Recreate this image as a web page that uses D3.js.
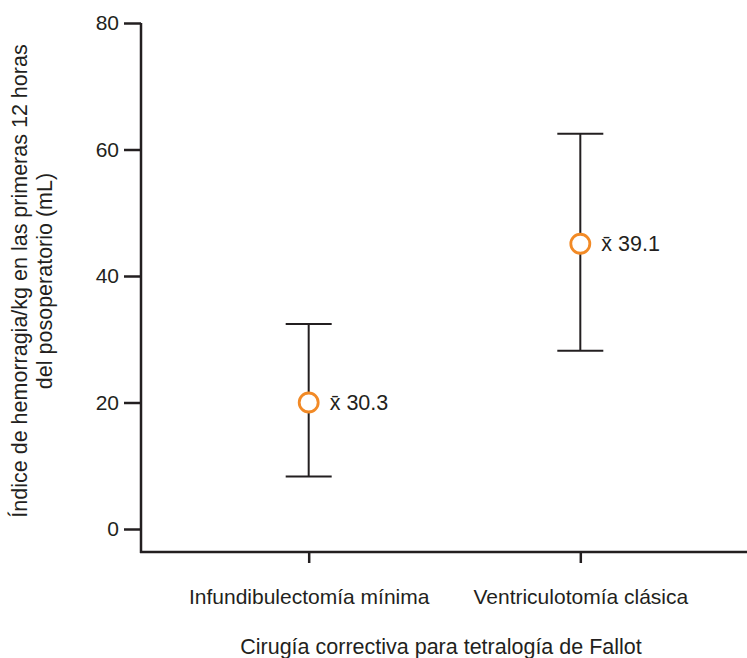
<!DOCTYPE html>
<meta charset="utf-8">
<style>
body { margin: 0; background: #fff; }
text { font-family: "Liberation Sans", Arial, sans-serif; fill: #231f20; }
.axis path, .axis line { stroke: #231f20; stroke-width: 2.5; }
.axis text { font-size: 21px; fill: #231f20; }
.bar { stroke: #231f20; stroke-width: 2; }
</style>
<body>
<svg width="747" height="658"></svg>
<script src="https://cdn.jsdelivr.net/npm/d3@7"></script>
<script>

var categories = ["Infundibulectomía mínima", "Ventriculotomía clásica"];
var points = [20, 45.1];
var upper = [32.4, 62.5];
var lower = [8.3, 28.2];
var meanLabels = ["30.3", "39.1"];
var yTicks = [0, 20, 40, 60, 80];

var svg = d3.select("svg");

var y = d3.scaleLinear().domain([0, 80]).range([529, 23]);
var x = d3.scalePoint().domain(categories).range([143, 746]).padding(0.61);
var axisY = 552;

// y axis
var gy = svg.append("g").attr("class", "axis")
    .attr("transform", "translate(141,0)")
    .call(d3.axisLeft(y).tickValues(yTicks).tickSize(17).tickPadding(5).tickSizeOuter(0));
gy.select(".domain").remove();
gy.append("line").attr("x1", 0).attr("x2", 0).attr("y1", y(80)).attr("y2", axisY + 1);

// x axis
var gx = svg.append("g").attr("class", "axis")
    .attr("transform", "translate(0," + axisY + ")")
    .call(d3.axisBottom(x).tickSize(11).tickPadding(26).tickSizeOuter(0));
gx.select(".domain").remove();
gx.append("line").attr("x1", 140).attr("x2", 747).attr("y1", 0).attr("y2", 0);
gx.selectAll(".tick text").style("font-size", "21px");

// error bars
var g = svg.append("g").selectAll("g").data(categories).enter().append("g");
g.append("line").attr("class", "bar")
    .attr("x1", function(d) { return x(d); }).attr("x2", function(d) { return x(d); })
    .attr("y1", function(d, i) { return y(upper[i]); })
    .attr("y2", function(d, i) { return y(lower[i]); });
[upper, lower].forEach(function(arr) {
  g.append("line").attr("class", "bar")
      .attr("x1", function(d) { return x(d) - 23; }).attr("x2", function(d) { return x(d) + 23; })
      .attr("y1", function(d, i) { return y(arr[i]); })
      .attr("y2", function(d, i) { return y(arr[i]); });
});
g.append("circle")
    .attr("cx", function(d) { return x(d); })
    .attr("cy", function(d, i) { return y(points[i]); })
    .attr("r", 9.5)
    .attr("fill", "#fff")
    .attr("stroke", "#f28a26")
    .attr("stroke-width", 2.8);
g.append("text")
    .attr("x", function(d) { return x(d) + 21; })
    .attr("y", function(d, i) { return y(points[i]); })
    .attr("dy", "0.36em")
    .style("font-size", "21.5px")
    .text(function(d, i) { return "x\u0304 " + meanLabels[i]; });

// axis titles
svg.append("text")
    .attr("x", 441).attr("y", 654)
    .attr("text-anchor", "middle")
    .style("font-size", "21.5px")
    .text("Cirugía correctiva para tetralogía de Fallot");

var yt = svg.append("text")
    .attr("transform", "translate(27,281) rotate(-90)")
    .attr("text-anchor", "middle")
    .style("font-size", "21.5px");
yt.append("tspan").attr("x", 0).attr("y", 0).text("Índice de hemorragia/kg en las primeras 12 horas");
yt.append("tspan").attr("x", 0).attr("y", 25).text("del posoperatorio (mL)");

</script>
</body>
